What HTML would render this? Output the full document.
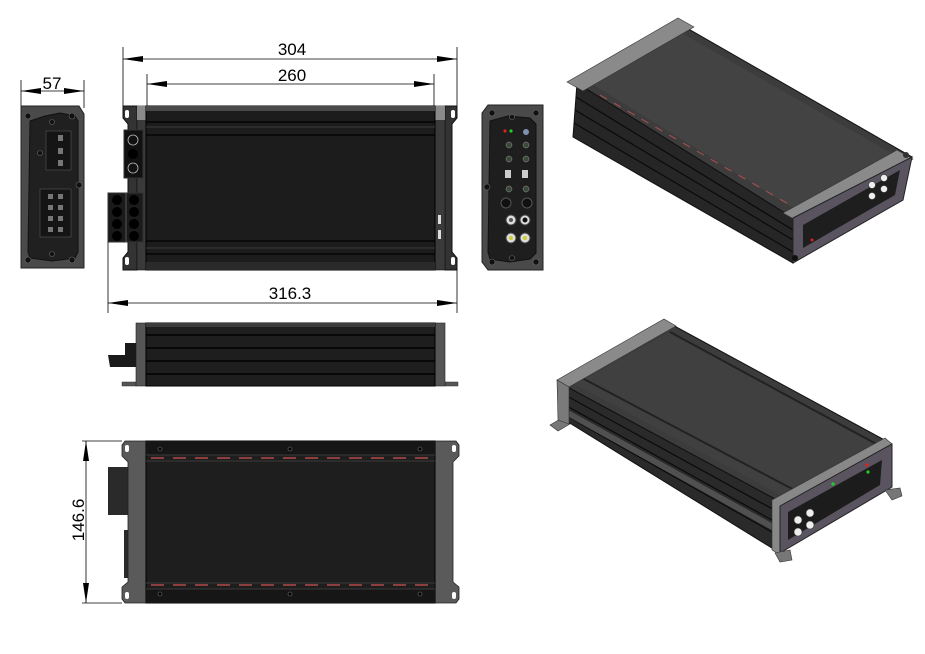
<!DOCTYPE html>
<html><head><meta charset="utf-8"><style>
html,body{margin:0;padding:0;background:#fff}
svg{display:block}
text{font-family:"Liberation Sans",sans-serif;fill:#000}
</style></head><body>
<svg width="925" height="654" viewBox="0 0 925 654" xmlns="http://www.w3.org/2000/svg">
<defs>
<marker id="a" viewBox="0 0 20 6" refX="20" refY="3" markerWidth="20" markerHeight="6" markerUnits="userSpaceOnUse" orient="auto-start-reverse"><path d="M0,0L20,3L0,6Z" fill="#000"/></marker>
</defs>

<!-- ===== Left end view ===== -->
<line x1="21" y1="80" x2="21" y2="108" stroke="#000" stroke-width="0.8"/>
<line x1="84" y1="80" x2="84" y2="108" stroke="#000" stroke-width="0.8"/>
<line x1="21" y1="91" x2="84" y2="91" stroke="#000" stroke-width="0.8" marker-start="url(#a)" marker-end="url(#a)"/>
<text x="52" y="89" font-size="17" text-anchor="middle">57</text>
<path d="M21,106 L79,106 L84,114 L84,268 L21,268 Z" fill="#4a4a4a" stroke="#222" stroke-width="1"/>
<path d="M30,121 L45,116 L60,113 L75,116 L78,121 L78,252 L75,258 L52,261 L30,258 L28,252 Z" fill="#202020" stroke="#111"/>
<rect x="46" y="131" width="25" height="39" fill="#151515" stroke="#555" stroke-width="0.6"/>
<rect x="40" y="189" width="31" height="48" fill="#151515" stroke="#555" stroke-width="0.6"/>
<g fill="#777"><rect x="58" y="135" width="5" height="6"/><rect x="58" y="148" width="5" height="6"/><rect x="58" y="160" width="5" height="6"/>
<rect x="48" y="194" width="5" height="5"/><rect x="58" y="194" width="5" height="5"/><rect x="48" y="205" width="5" height="5"/><rect x="58" y="205" width="5" height="5"/><rect x="48" y="216" width="5" height="5"/><rect x="58" y="216" width="5" height="5"/><rect x="48" y="227" width="5" height="5"/><rect x="58" y="227" width="5" height="5"/></g>
<g fill="#111" stroke="#666" stroke-width="0.6"><circle cx="28" cy="116" r="3"/><circle cx="72" cy="116" r="3"/><circle cx="52" cy="122" r="2.5"/><circle cx="40" cy="153" r="2.5"/><circle cx="79" cy="185" r="3"/><circle cx="52" cy="254" r="2.5"/><circle cx="28" cy="260" r="3"/><circle cx="72" cy="260" r="3"/></g>

<!-- ===== Top view ===== -->
<line x1="123" y1="47" x2="123" y2="108" stroke="#000" stroke-width="0.8"/>
<line x1="457" y1="47" x2="457" y2="108" stroke="#000" stroke-width="0.8"/>
<line x1="123" y1="59" x2="457" y2="59" stroke="#000" stroke-width="0.8" marker-start="url(#a)" marker-end="url(#a)"/>
<text x="292" y="55" font-size="17" text-anchor="middle">304</text>
<line x1="147" y1="74" x2="147" y2="108" stroke="#000" stroke-width="0.8"/>
<line x1="434" y1="74" x2="434" y2="108" stroke="#000" stroke-width="0.8"/>
<line x1="147" y1="84" x2="434" y2="84" stroke="#000" stroke-width="0.8" marker-start="url(#a)" marker-end="url(#a)"/>
<text x="292" y="81" font-size="17" text-anchor="middle">260</text>
<path d="M123,106 L137,106 L137,270 L123,270 L123,258 L128,252 L128,124 L123,118 Z" fill="#333" stroke="#111"/>
<path d="M457,106 L445,106 L445,270 L457,270 L457,258 L452,252 L452,124 L457,118 Z" fill="#333" stroke="#111"/>
<rect x="125" y="110" width="4" height="8" rx="2" fill="#fff"/><rect x="125" y="257" width="4" height="8" rx="2" fill="#fff"/>
<rect x="451" y="110" width="4" height="8" rx="2" fill="#fff"/><rect x="451" y="257" width="4" height="8" rx="2" fill="#fff"/>
<rect x="137" y="106" width="9" height="164" fill="#3a3a3a" stroke="#111" stroke-width="0.6"/>
<rect x="137" y="106" width="9" height="14" fill="#8a8a8a"/>
<rect x="435" y="106" width="10" height="164" fill="#3a3a3a" stroke="#111" stroke-width="0.6"/>
<rect x="435" y="106" width="10" height="14" fill="#8a8a8a"/>
<rect x="146" y="106" width="289" height="164" fill="#1c1c1c" stroke="#000"/>
<g stroke="#000" stroke-width="1.2"><line x1="146" y1="122" x2="435" y2="122"/><line x1="146" y1="135" x2="435" y2="135"/><line x1="146" y1="241" x2="435" y2="241"/><line x1="146" y1="254" x2="435" y2="254"/></g>
<g stroke="#3a3a3a" stroke-width="1"><line x1="146" y1="127" x2="435" y2="127"/><line x1="146" y1="248" x2="435" y2="248"/></g>
<rect x="146" y="106" width="289" height="5" fill="#4a4a4a"/>
<rect x="146" y="262" width="289" height="8" fill="#2a2a2a"/>
<rect x="438" y="215" width="3" height="9" fill="#ddd"/><rect x="438" y="230" width="3" height="9" fill="#ddd"/>
<rect x="124" y="130" width="19" height="48" fill="#111" stroke="#333"/>
<circle cx="133" cy="140" r="5" fill="#111" stroke="#bbb" stroke-width="0.8"/><circle cx="133" cy="154" r="5" fill="#000"/><circle cx="133" cy="168" r="5" fill="#111" stroke="#bbb" stroke-width="0.8"/>
<rect x="108" y="193" width="35" height="49" fill="#1a1a1a" stroke="#333"/>
<line x1="126" y1="193" x2="126" y2="242" stroke="#555"/>
<g fill="#000"><circle cx="117" cy="200" r="5"/><circle cx="134" cy="200" r="5"/><circle cx="117" cy="212" r="5"/><circle cx="134" cy="212" r="5"/><circle cx="117" cy="224" r="5"/><circle cx="134" cy="224" r="5"/><circle cx="117" cy="236" r="5"/><circle cx="134" cy="236" r="5"/></g>
<line x1="108" y1="242" x2="108" y2="313" stroke="#000" stroke-width="0.8"/>
<line x1="457" y1="270" x2="457" y2="313" stroke="#000" stroke-width="0.8"/>
<line x1="108" y1="303" x2="457" y2="303" stroke="#000" stroke-width="0.8" marker-start="url(#a)" marker-end="url(#a)"/>
<text x="290" y="299" font-size="17" text-anchor="middle">316.3</text>

<!-- ===== Right end view ===== -->
<path d="M488,105 L543,105 L543,270 L488,270 L482,262 L482,113 Z" fill="#4a4a4a" stroke="#222"/>
<path d="M490,121 L508,116 L530,118 L536,124 L536,253 L530,259 L510,262 L490,259 L488,252 Z" fill="#1e1e1e" stroke="#111"/>
<circle cx="505" cy="131" r="1.6" fill="#e02020"/><circle cx="511" cy="131" r="1.6" fill="#20d020"/>
<circle cx="526" cy="132" r="3" fill="#8090b0"/>
<g fill="#3a4a3a" stroke="#999" stroke-width="0.5"><circle cx="509" cy="145" r="3"/><circle cx="526" cy="145" r="3"/><circle cx="509" cy="159" r="3"/><circle cx="526" cy="159" r="3"/><circle cx="509" cy="189" r="3"/><circle cx="526" cy="189" r="3"/></g>
<rect x="505" y="170" width="6" height="8" fill="#ccc"/><rect x="522" y="170" width="6" height="8" fill="#ccc"/>
<circle cx="506" cy="203" r="5" fill="#111" stroke="#555"/><circle cx="527" cy="203" r="5" fill="#111" stroke="#555"/>
<circle cx="511" cy="220" r="5" fill="#ddd" stroke="#444"/><circle cx="511" cy="220" r="2" fill="#555"/>
<circle cx="525" cy="220" r="5" fill="#ddd" stroke="#444"/><circle cx="525" cy="220" r="2.5" fill="#111"/>
<circle cx="511" cy="238" r="5" fill="#ddd" stroke="#444"/><circle cx="511" cy="238" r="2" fill="#cc3"/>
<circle cx="525" cy="238" r="5" fill="#ddd" stroke="#444"/><circle cx="525" cy="238" r="2" fill="#cc3"/>
<g fill="#111" stroke="#666" stroke-width="0.6"><circle cx="492" cy="113" r="3"/><circle cx="536" cy="113" r="3"/><circle cx="512" cy="117" r="2.5"/><circle cx="487" cy="187" r="3"/><circle cx="512" cy="258" r="2.5"/><circle cx="492" cy="262" r="3"/><circle cx="536" cy="262" r="3"/></g>

<!-- ===== Side view ===== -->
<rect x="122" y="382" width="14" height="4" fill="#555" stroke="#333" stroke-width="0.5"/>
<rect x="445" y="382" width="13" height="4" fill="#555" stroke="#333" stroke-width="0.5"/>
<rect x="136" y="323" width="10" height="63" fill="#555" stroke="#222" stroke-width="0.6"/>
<rect x="435" y="323" width="10" height="63" fill="#555" stroke="#222" stroke-width="0.6"/>
<rect x="146" y="323" width="289" height="63" fill="#1e1e1e" stroke="#000"/>
<rect x="146" y="323" width="289" height="4" fill="#3c3c3c"/>
<g stroke="#000" stroke-width="1.4"><line x1="146" y1="335" x2="435" y2="335"/><line x1="146" y1="348" x2="435" y2="348"/><line x1="146" y1="361" x2="435" y2="361"/><line x1="146" y1="374" x2="435" y2="374"/></g>
<path d="M108,355 L125,355 L125,343 L136,343 L136,367 L110,367 Z" fill="#1a1a1a"/>

<!-- ===== Bottom view ===== -->
<line x1="82" y1="441" x2="122" y2="441" stroke="#000" stroke-width="0.8"/>
<line x1="82" y1="603" x2="122" y2="603" stroke="#000" stroke-width="0.8"/>
<line x1="86" y1="441" x2="86" y2="603" stroke="#000" stroke-width="0.8" marker-start="url(#a)" marker-end="url(#a)"/>
<text transform="translate(84,520) rotate(-90)" font-size="17" text-anchor="middle">146.6</text>
<rect x="108" y="467" width="22" height="48" fill="#2a2a2a"/>
<rect x="124" y="530" width="6" height="48" fill="#2a2a2a"/>
<path d="M125,441 L146,441 L146,603 L125,603 L122,599 L122,587 L128,582 L128,462 L122,456 L122,445 Z" fill="#5a5a5a" stroke="#222" stroke-width="0.8"/>
<path d="M456,441 L435,441 L435,603 L456,603 L459,599 L459,587 L453,582 L453,462 L459,456 L459,445 Z" fill="#5a5a5a" stroke="#222" stroke-width="0.8"/>
<rect x="125" y="445" width="4" height="7" rx="2" fill="#fff"/><rect x="125" y="592" width="4" height="7" rx="2" fill="#fff"/>
<rect x="452" y="445" width="4" height="7" rx="2" fill="#fff"/><rect x="452" y="592" width="4" height="7" rx="2" fill="#fff"/>
<rect x="146" y="441" width="289" height="162" fill="#1e1e1e" stroke="#000"/>
<rect x="146" y="441" width="289" height="14" fill="#161616"/>
<rect x="146" y="589" width="289" height="14" fill="#161616"/>
<line x1="146" y1="455" x2="435" y2="455" stroke="#3a3a3a"/><line x1="146" y1="461" x2="435" y2="461" stroke="#3a3a3a"/>
<line x1="146" y1="583" x2="435" y2="583" stroke="#3a3a3a"/><line x1="146" y1="589" x2="435" y2="589" stroke="#3a3a3a"/>
<line x1="151" y1="458" x2="432" y2="458" stroke="#b24848" stroke-width="1.5" stroke-dasharray="13,9"/>
<line x1="151" y1="585" x2="432" y2="585" stroke="#b24848" stroke-width="1.5" stroke-dasharray="13,9"/>
<g fill="#000" stroke="#777" stroke-width="0.6"><circle cx="160" cy="449" r="2"/><circle cx="290" cy="449" r="2"/><circle cx="420" cy="449" r="2"/><circle cx="160" cy="594" r="2"/><circle cx="290" cy="594" r="2"/><circle cx="420" cy="594" r="2"/></g>

<!-- ===== Iso view 1 (top) ===== -->
<path d="M573,137 L577,83 L793,218 L793,263 Z" fill="#262626" stroke="#111"/>
<g stroke="#0a0a0a" stroke-width="1.2"><line x1="576" y1="97" x2="793" y2="230"/><line x1="575" y1="110" x2="793" y2="240"/><line x1="574" y1="123" x2="793" y2="252"/></g>
<path d="M577,83 L678,23 L912,157 L793,218 Z" fill="#3c3c3c" stroke="#111"/>
<path d="M592,84 L680,32 L898,157 L796,210 Z" fill="#434343"/>
<line x1="600" y1="95" x2="790" y2="205" stroke="#b05050" stroke-width="1" stroke-dasharray="8,8"/>
<path d="M567,82 L678,18 L694,27 L583,91 Z" fill="#8a8a8a" stroke="#333" stroke-width="0.6"/>
<path d="M783,213 L897,150 L913,159 L799,222 Z" fill="#8a8a8a" stroke="#333" stroke-width="0.6"/>
<path d="M793,218 L912,157 L903,200 L793,263 Z" fill="#5a5460" stroke="#222"/>
<path d="M803,225 L900,170 L895,195 L803,248 Z" fill="#1e1e1e"/>
<g fill="#eee" stroke="#333" stroke-width="0.6"><circle cx="872" cy="185" r="3.5"/><circle cx="884" cy="178" r="3.5"/><circle cx="872" cy="196" r="3.5"/><circle cx="884" cy="189" r="3.5"/></g>
<circle cx="812" cy="240" r="1.5" fill="#e02020"/>
<circle cx="795" cy="258" r="3" fill="#111"/><circle cx="906" cy="155" r="3" fill="#333"/>

<!-- ===== Iso view 2 (bottom) ===== -->
<path d="M550,425 L562,418 L570,424 L558,431 Z" fill="#777" stroke="#333" stroke-width="0.6"/>
<path d="M560,417 L560,383 L777,500 L780,553 Z" fill="#2a2a2a" stroke="#111"/>
<g stroke="#0a0a0a" stroke-width="1.2"><line x1="565" y1="395" x2="778" y2="512"/><line x1="565" y1="405" x2="779" y2="524"/><line x1="565" y1="415" x2="779" y2="536"/></g>
<path d="M560,383 L667,322 L890,443 L777,500 Z" fill="#3c3c3c" stroke="#111"/>
<path d="M575,384 L670,332 L885,450 L790,500 Z" fill="#404040"/>
<line x1="582" y1="378" x2="800" y2="493" stroke="#222" stroke-width="2"/>
<line x1="670" y1="332" x2="880" y2="446" stroke="#222" stroke-width="2"/>
<line x1="562" y1="410" x2="778" y2="530" stroke="#6a6a6a" stroke-width="6" opacity="0.6"/>
<path d="M557,380 L664,319 L676,326 L569,387 Z" fill="#8a8a8a" stroke="#333" stroke-width="0.6"/>
<path d="M557,380 L569,387 L569,424 L558,420 Z" fill="#7a7a7a" stroke="#333" stroke-width="0.6"/>
<path d="M772,500 L885,438 L892,444 L780,506 L780,555 L772,550 Z" fill="#888" stroke="#333" stroke-width="0.6"/>
<path d="M780,506 L892,444 L892,487 L780,553 Z" fill="#5a5460" stroke="#222"/>
<path d="M788,512 L882,460 L880,485 L788,540 Z" fill="#1c1c1c"/>
<g fill="#eee" stroke="#333" stroke-width="0.6"><circle cx="798" cy="520" r="4"/><circle cx="810" cy="513" r="4"/><circle cx="798" cy="532" r="4"/><circle cx="810" cy="525" r="4"/></g>
<circle cx="833" cy="484" r="1.6" fill="#20d020"/><circle cx="867" cy="465" r="1.6" fill="#e02020"/><circle cx="868" cy="472" r="1.6" fill="#20d020"/>
<path d="M885,490 L900,488 L902,496 L892,500 Z" fill="#777" stroke="#333" stroke-width="0.6"/>
<path d="M775,553 L790,550 L792,560 L780,562 Z" fill="#777" stroke="#333" stroke-width="0.6"/>
</svg>
</body></html>
